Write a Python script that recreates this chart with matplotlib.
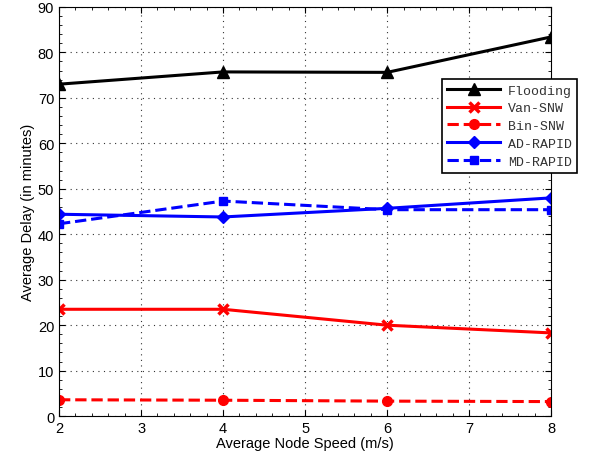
import matplotlib
matplotlib.use("Agg")
import matplotlib.pyplot as plt
from matplotlib.ticker import AutoMinorLocator

speed = [2, 4, 6, 8]
flooding = [73.0, 75.7, 75.6, 83.4]
van_snw = [23.5, 23.5, 20.0, 18.3]
bin_snw = [3.6, 3.5, 3.3, 3.2]
ad_rapid = [44.4, 43.8, 45.7, 48.0]
md_rapid = [42.3, 47.3, 45.4, 45.4]

plt.rcParams["font.family"] = "Liberation Sans"

fig = plt.figure(figsize=(5.92, 4.64), dpi=100)
ax = fig.add_axes([0.0997, 0.101, 0.8314, 0.882])

ax.plot(speed, flooding, color="black", linestyle="-", marker="^", markersize=8, linewidth=2.2, label="Flooding")
ax.plot(speed, van_snw, color="red", linestyle="-", marker="x", markersize=7, markeredgewidth=2.5, linewidth=2.2, label="Van-SNW")
ax.plot(speed, bin_snw, color="red", linestyle="--", marker="o", markersize=7, linewidth=2.2, label="Bin-SNW")
ax.plot(speed, ad_rapid, color="blue", linestyle="-", marker="D", markersize=6, linewidth=2.2, label="AD-RAPID")
ax.plot(speed, md_rapid, color="blue", linestyle="--", marker="s", markersize=6, linewidth=2.2, label="MD-RAPID")

ax.set_xlim(2, 8)
ax.set_ylim(0, 90)
ax.set_xticks(range(2, 9))
ax.set_yticks(range(0, 91, 10))
ax.xaxis.set_minor_locator(AutoMinorLocator(5))
ax.yaxis.set_minor_locator(AutoMinorLocator(5))
ax.tick_params(which="both", direction="in", top=True, right=True, labelsize=10.5)
ax.tick_params(which="major", length=4)
ax.tick_params(which="minor", length=2)
ax.grid(True, which="major", linestyle=(0, (1, 4)), color="#333333", linewidth=0.8)
ax.set_xlabel("Average Node Speed (m/s)", fontsize=10.5, labelpad=1)
ax.set_ylabel("Average Delay (in minutes)", fontsize=10.5, labelpad=2)

leg = ax.legend(loc="upper left", bbox_to_anchor=(442 / 592, 1 - 80 / 464), bbox_transform=fig.transFigure,
                borderaxespad=0, prop={"family": "Liberation Mono", "size": 9.5}, fancybox=False, framealpha=1,
                edgecolor="black", handlelength=4.0, labelspacing=0.42, borderpad=0.4, handletextpad=0.6)
leg.get_frame().set_linewidth(1.2)
for t in leg.get_texts():
    t.set_color("#333333")

fig.savefig("out.png", dpi=100)
